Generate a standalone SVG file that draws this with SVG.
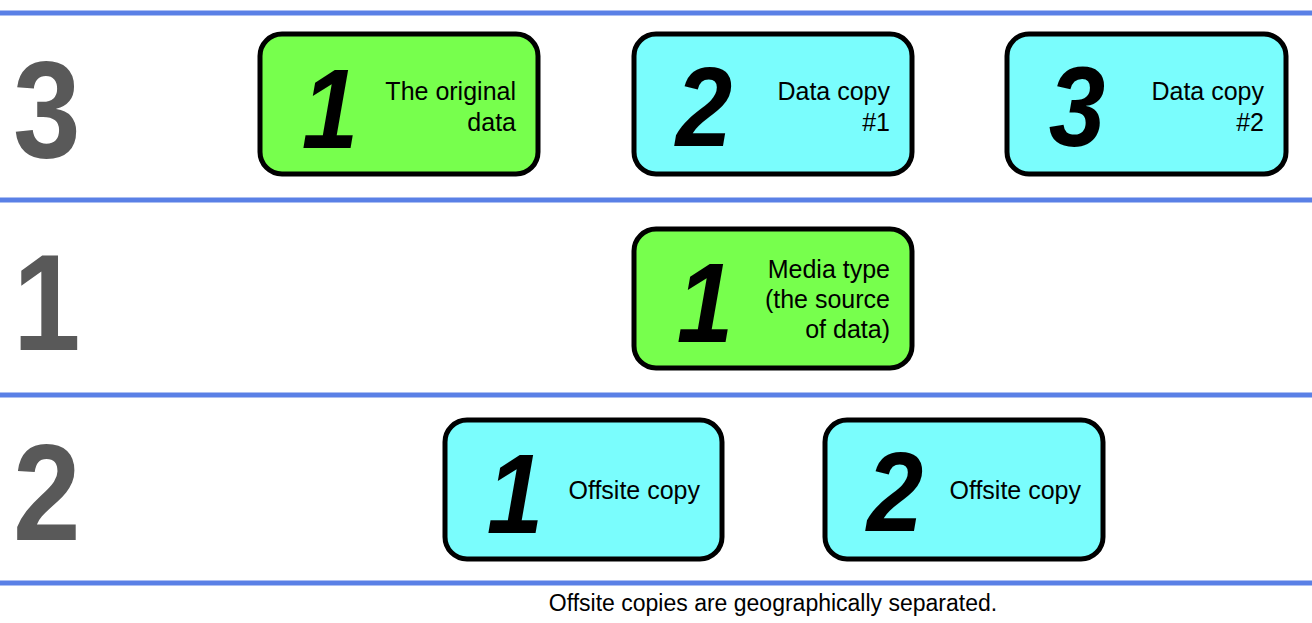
<svg xmlns="http://www.w3.org/2000/svg" width="1312" height="623" viewBox="0 0 1312 623">
<style>
.sep{stroke:#5A80E6;stroke-width:5}
.box{stroke:#000;stroke-width:5}
.g{fill:#77FF4D}
.c{fill:#7AFDFD}
.tier{font-family:"Liberation Sans",Arial,sans-serif;font-weight:bold;font-size:138px;fill:#595959}
.num{font-family:"Liberation Sans",Arial,sans-serif;font-weight:bold;font-style:italic;font-size:114px;fill:#000;text-anchor:middle}
.lbl{font-family:"Liberation Sans",Arial,sans-serif;font-size:25px;fill:#000;text-anchor:end}
.cap{font-family:"Liberation Sans",Arial,sans-serif;font-size:23px;fill:#000;text-anchor:middle}
</style>
<rect width="1312" height="623" fill="#fff"/>
<g id="separators">
<line class="sep" x1="0" y1="13" x2="1312" y2="13"/>
<line class="sep" x1="0" y1="200" x2="1312" y2="200"/>
<line class="sep" x1="0" y1="395" x2="1312" y2="395"/>
<line class="sep" x1="0" y1="583" x2="1312" y2="583"/>
</g>
<g id="tier-labels">
<text class="tier" transform="translate(13,157) scale(0.88,1)">3</text>
<text class="tier" transform="translate(13,350) scale(0.88,1)">1</text>
<text class="tier" transform="translate(13,540) scale(0.88,1)">2</text>
</g>
<g id="connectors"/>
<g id="node-original">
<rect class="box g" x="260" y="34" width="278" height="140" rx="22"/>
<text class="num" transform="translate(330,148) scale(0.89,1)">1</text>
<text class="lbl" x="516" y="100">The original</text>
<text class="lbl" x="516" y="131">data</text>
</g>
<g id="node-copy1">
<rect class="box c" x="634" y="34" width="278" height="140" rx="22"/>
<text class="num" transform="translate(704,146) scale(0.89,1)">2</text>
<text class="lbl" x="890" y="100">Data copy</text>
<text class="lbl" x="890" y="131">#1</text>
</g>
<g id="node-copy2">
<rect class="box c" x="1007" y="34" width="279" height="140" rx="22"/>
<text class="num" transform="translate(1077,146) scale(0.89,1)">3</text>
<text class="lbl" x="1264" y="100">Data copy</text>
<text class="lbl" x="1264" y="131">#2</text>
</g>
<g id="node-media">
<rect class="box g" x="634" y="229" width="278" height="139" rx="22"/>
<text class="num" transform="translate(705,342) scale(0.89,1)">1</text>
<text class="lbl" x="890" y="278">Media type</text>
<text class="lbl" x="890" y="308">(the source</text>
<text class="lbl" x="890" y="338">of data)</text>
</g>
<g id="node-offsite1">
<rect class="box c" x="445" y="420" width="277" height="139" rx="22"/>
<text class="num" transform="translate(515,533) scale(0.89,1)">1</text>
<text class="lbl" x="700" y="499">Offsite copy</text>
</g>
<g id="node-offsite2">
<rect class="box c" x="825" y="420" width="278" height="139" rx="22"/>
<text class="num" transform="translate(895,531) scale(0.89,1)">2</text>
<text class="lbl" x="1081" y="499">Offsite copy</text>
</g>
<text class="cap" x="773" y="611">Offsite copies are geographically separated.</text>
</svg>
